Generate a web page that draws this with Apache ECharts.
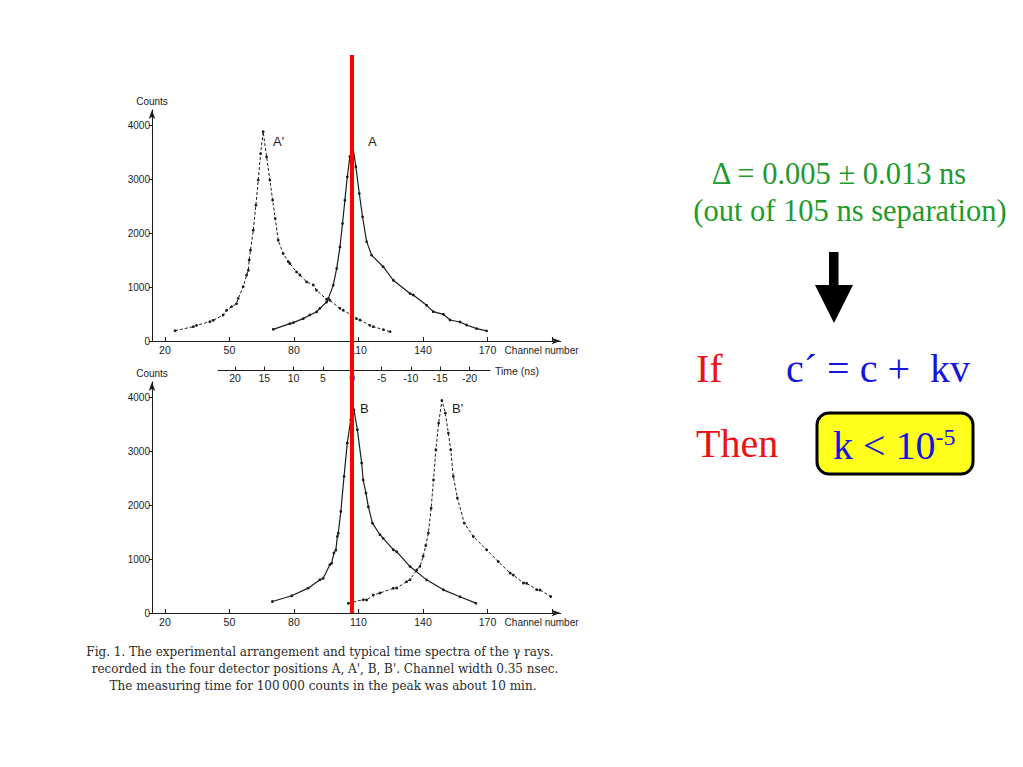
<!DOCTYPE html>
<html>
<head>
<meta charset="utf-8">
<script src="https://cdn.jsdelivr.net/npm/echarts@6/dist/echarts.min.js"></script>
<style>
html,body{margin:0;padding:0;background:#fff;}
#c{width:1023px;height:767px;}
</style>
</head>
<body>
<div id="c"></div>
<script>
// ---- data ----
var channelTicks = [20, 50, 80, 110, 140, 170, 200];
var channelLabels = [20, 50, 80, 110, 140, 170];
var countTicks = [0, 1000, 2000, 3000, 4000];
var timeTicks = [20, 15, 10, 5, 0, -5, -10, -15, -20];

var chApr = [24.7,33.2,34.7,40.9,42.5,47.1,48.7,51,53.3,54.1,56.4,58,58.8,59.2,59.8,61.1,62.3,63.4,64.5,65.7,67.3,68.8,70.1,71.3,72.7,75,77.4,78.1,81.2,82.8,85.9,89,90.5,95.2,96.7,101.4,102.9,106.8,109.1,110.7,115.3,116.9,121.6,124.7];
var cntApr = [191,265,290,358,383,481,570,636,692,790,1006,1222,1310,1500,1680,2050,2515,2980,3470,3875,3410,2980,2610,2270,1866,1620,1469,1434,1280,1222,1094,1037,940,772,754,605,569,481,414,389,290,265,210,173];

var chA = [70.4,78.1,79.7,84.3,87.4,90.5,92.1,95.2,96,98.3,99.9,101.4,102.6,103.7,104.8,106,107.3,108.8,110.4,111.9,113.8,116.1,121.5,126.2,134,135.5,141.7,144.8,149.5,152.6,157.2,160.3,165,169.6];
var cntA = [216,321,340,414,481,538,605,723,790,1035,1345,1743,2175,2608,3040,3411,3628,3226,2731,2299,1840,1590,1376,1125,878,852,661,543,494,389,352,296,229,188];

var chB = [70,79,86.6,92.1,93.6,96.7,97.5,98.6,99.5,100.2,100.6,101.8,103.3,104.8,106.4,107.9,109.5,111.5,112.2,113.5,114.6,116.5,120,121.5,126.2,127.8,134,141.7,149.5,157.2,164.6];
var cntB = [213,320,460,617,642,895,920,1111,1167,1419,1476,1880,2530,3147,3579,3764,3394,2777,2463,2221,1969,1664,1450,1383,1172,1135,860,614,429,300,182];

var chBpr = [105.3,112.2,113.8,116.9,120,126.2,127.8,132.4,134,137.1,138.6,140.1,141.3,142.5,143.8,144.9,146,147.3,148.8,150.4,151.8,152.9,154.1,156,159.2,163.4,169.6,175,180.5,182,186.7,188.2,192.9,194.4,199.4];
var cntBpr = [179,247,241,333,370,457,463,580,617,796,864,1050,1250,1480,1940,2465,3023,3517,3936,3702,3332,3023,2530,2130,1664,1416,1170,953,740,704,555,550,432,426,305];

var redLineChannel = 107;

function pairs(xs, ys) { return xs.map(function (x, i) { return [x, ys[i]]; }); }

var chart = echarts.init(document.getElementById('c'), null, {renderer: 'svg'});
var ink = '#1c1c1c';
var sans = 'Liberation Sans';
var serif = 'Liberation Serif';
var capSerif = 'DejaVu Serif';

function chanAxis(gi) {
  return {
    type: 'value', gridIndex: gi, min: 14, max: 204,
    axisLine: {show: true, onZero: false, symbol: ['none', 'arrow'], symbolSize: [5, 9], lineStyle: {color: ink, width: 1}},
    axisTick: {show: true, inside: true, length: 4, customValues: channelTicks, lineStyle: {color: ink}},
    axisLabel: {customValues: channelLabels, color: ink, fontFamily: sans, fontSize: 10.5, margin: 3},
    splitLine: {show: false},
    name: 'Channel number', nameLocation: 'end', nameGap: -56,
    nameTextStyle: {color: ink, fontFamily: sans, fontSize: 10, align: 'left', verticalAlign: 'top', padding: [4, 0, 0, 0]}
  };
}
function countAxis(gi) {
  return {
    type: 'value', gridIndex: gi, min: 0, max: 4280,
    axisLine: {show: true, symbol: ['none', 'arrow'], symbolSize: [5, 9], lineStyle: {color: ink, width: 1}},
    axisTick: {show: true, length: 3, customValues: countTicks, lineStyle: {color: ink}},
    axisLabel: {customValues: countTicks, color: ink, fontFamily: sans, fontSize: 10, margin: 2,
      formatter: function (v) { return String(v); }},
    splitLine: {show: false},
    name: 'Counts', nameLocation: 'end', nameGap: 3,
    nameTextStyle: {color: ink, fontFamily: sans, fontSize: 10, align: 'center'}
  };
}
function curve(name, xi, yi, xs, ys, dashed) {
  return {
    name: name, type: 'line', xAxisIndex: xi, yAxisIndex: yi,
    data: pairs(xs, ys), symbol: 'circle', symbolSize: 2.8, showSymbol: true,
    itemStyle: {color: ink}, lineStyle: {color: ink, width: dashed ? 1 : 1.2, type: dashed ? [3, 2] : 'solid'},
    silent: true, animation: false, z: 3
  };
}

var option = {
  backgroundColor: '#fff',
  animation: false,
  grid: [
    {left: 152, top: 109.9, width: 408.6, height: 231.1},
    {left: 152, top: 381.9, width: 408.6, height: 231.1},
    {left: 218, top: 360, width: 272, height: 10.5}
  ],
  xAxis: [
    chanAxis(0),
    chanAxis(1),
    {
      type: 'value', gridIndex: 2, min: -23.5, max: 22.9, inverse: true,
      axisLine: {show: true, onZero: false, lineStyle: {color: ink, width: 1}},
      axisTick: {show: true, inside: true, length: 4, customValues: timeTicks, lineStyle: {color: ink}},
      axisLabel: {customValues: timeTicks, color: ink, fontFamily: sans, fontSize: 10.5, margin: 2},
      splitLine: {show: false},
      name: 'Time (ns)', nameLocation: 'start', nameGap: 5,
      nameTextStyle: {color: ink, fontFamily: sans, fontSize: 10.5, align: 'left', verticalAlign: 'middle'}
    }
  ],
  yAxis: [
    countAxis(0),
    countAxis(1),
    {type: 'value', gridIndex: 2, show: false}
  ],
  series: [
    curve("A'", 0, 0, chApr, cntApr, true),
    curve('A', 0, 0, chA, cntA, false),
    curve('B', 1, 1, chB, cntB, false),
    curve("B'", 1, 1, chBpr, cntBpr, true)
  ],
  graphic: [
    {type: 'text', left: 273, top: 135, style: {text: "A'", fontFamily: sans, fontSize: 13, fill: ink}},
    {type: 'text', left: 368, top: 135, style: {text: 'A', fontFamily: sans, fontSize: 13, fill: ink}},
    {type: 'text', left: 360, top: 402, style: {text: 'B', fontFamily: sans, fontSize: 13, fill: ink}},
    {type: 'text', left: 452, top: 402, style: {text: "B'", fontFamily: sans, fontSize: 13, fill: ink}},

    {type: 'text', x: 320, y: 652, style: {text: 'Fig. 1. The experimental arrangement and typical time spectra of the \u03b3 rays.', fontFamily: capSerif, fontSize: 12, fill: '#2a2a2a', align: 'center', verticalAlign: 'middle'}},
    {type: 'text', x: 325, y: 669, style: {text: "recorded in the four detector positions A, A', B, B'. Channel width 0.35 nsec.", fontFamily: capSerif, fontSize: 12, fill: '#2a2a2a', align: 'center', verticalAlign: 'middle'}},
    {type: 'text', x: 323, y: 686, style: {text: 'The measuring time for 100\u2009000 counts in the peak was about 10 min.', fontFamily: capSerif, fontSize: 12, fill: '#2a2a2a', align: 'center', verticalAlign: 'middle'}},

    {type: 'text', x: 839, y: 174, style: {text: '\u0394 = 0.005 \u00b1 0.013 ns', fontFamily: serif, fontSize: 30.5, fill: '#1f9a2e', align: 'center', verticalAlign: 'middle'}},
    {type: 'text', x: 850, y: 211, style: {text: '(out of 105 ns separation)', fontFamily: serif, fontSize: 30.5, fill: '#1f9a2e', align: 'center', verticalAlign: 'middle'}},

    {type: 'rect', shape: {x: 829, y: 252, width: 9.5, height: 35}, style: {fill: '#000'}},
    {type: 'polygon', shape: {points: [[815, 285], [853, 285], [834, 323]]}, style: {fill: '#000'}},

    {type: 'text', x: 696, y: 368, style: {text: 'If', fontFamily: serif, fontSize: 40, fill: '#ee1111', verticalAlign: 'middle'}},
    {type: 'text', x: 786, y: 368, style: {text: 'c\u00b4 = c +  kv', fontFamily: serif, fontSize: 40, fill: '#1515dd', verticalAlign: 'middle'}},
    {type: 'text', x: 696, y: 443, style: {text: 'Then', fontFamily: serif, fontSize: 40, fill: '#ee1111', verticalAlign: 'middle'}},
    {type: 'rect', shape: {x: 817, y: 413, width: 156, height: 61, r: 12}, style: {fill: '#ffff1a', stroke: '#000', lineWidth: 3}},
    {type: 'text', x: 833, y: 445, style: {
      text: '{a|k < 10}{b|-5}', fill: '#1515dd', verticalAlign: 'middle',
      rich: {
        a: {fontFamily: serif, fontSize: 40, fill: '#1515dd', verticalAlign: 'bottom'},
        b: {fontFamily: serif, fontSize: 24, fill: '#1515dd', verticalAlign: 'top'}
      }
    }, z: 10}
  ]
};
chart.setOption(option);

// red vertical reference line placed through the channel axis scale
var px = chart.convertToPixel({xAxisIndex: 0}, redLineChannel);
var yBottom = chart.convertToPixel({yAxisIndex: 1}, 0);
chart.setOption({
  graphic: [
    {id: 'redline', type: 'line', shape: {x1: px, y1: 55, x2: px, y2: yBottom}, style: {stroke: '#ff0000', lineWidth: 4}, z: 20}
  ]
});
</script>
</body>
</html>
